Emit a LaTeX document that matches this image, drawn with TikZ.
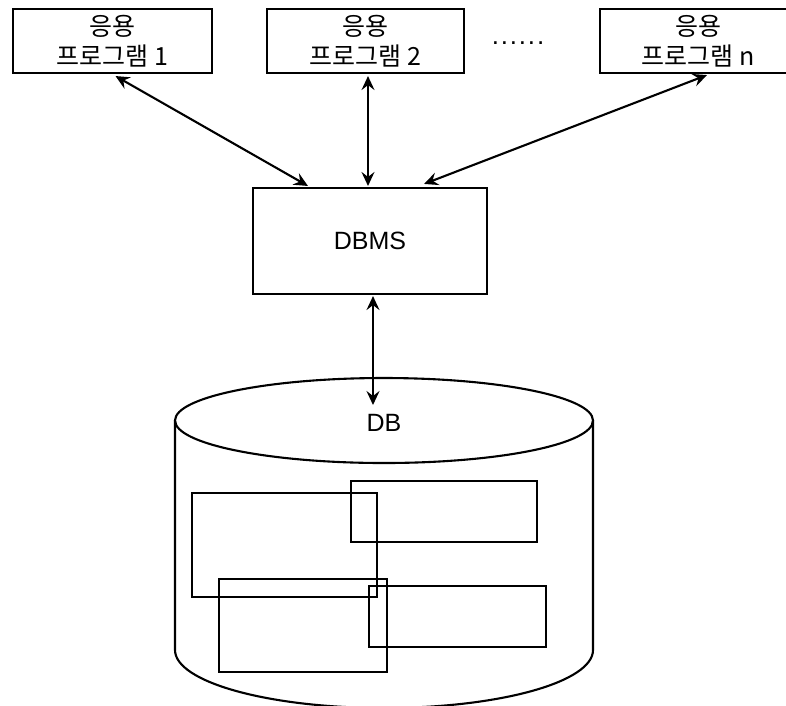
\documentclass[tikz,border=0pt]{standalone}
\usepackage{fontspec}
\setmainfont{Liberation Sans}
\newfontfamily\kofont{Noto Sans CJK KR}
\newfontfamily\dotfont[LetterSpace=7]{Liberation Sans}
\usetikzlibrary{arrows.meta,calc}
\tikzset{
  lw/.style={line width=2.1pt},
  appbox/.style={draw,lw,minimum width=197pt,minimum height=64pt,inner sep=0pt,
     align=center,font=\kofont\fontsize{25}{30}\selectfont},
  dbmsbox/.style={draw,lw,minimum width=234pt,minimum height=106pt,inner sep=0pt,
     font=\fontsize{25}{28}\selectfont},
  link/.style={lw,{Stealth[length=14pt,width=13pt,inset=5pt]}-{Stealth[length=14pt,width=13pt,inset=5pt]}},
  seg/.style={line width=2.2pt},
  label/.style={inner sep=0pt,font=\fontsize{25}{28}\selectfont}
}
\begin{document}
\begin{tikzpicture}[x=1pt,y=-1pt]
\useasboundingbox (0,0) rectangle (786,705);
\node[appbox,minimum width=199pt] (app1) at (112.5,41) {응용\\프로그램 1};
\node[appbox] (app2) at (365.5,41) {응용\\프로그램 2};
\node[appbox,minimum width=196pt] (appn) at (698,41) {응용\\프로그램 n};
\node[label,font=\dotfont\fontsize{26}{28}\selectfont,anchor=base] (dots) at (518,44) {......};
\node[dbmsbox] (dbms) at (370,241) {DBMS};
% cylinder
\draw[lw] (384,420.5) ellipse [x radius=209, y radius=42.5];
\draw[lw] (175,420.5) -- (175,650) arc[start angle=180,end angle=0,x radius=209,y radius=58] -- (593,420.5);
\node[label] (db) at (384,423) {DB};
\coordinate (dbtip) at (373,405);
% inner rectangles
\draw[seg] (192,493) rectangle (377,597);
\draw[seg] (351,481) rectangle (537,542);
\draw[seg] (219,579) rectangle (387,672);
\draw[seg] (369,586) rectangle (546,647);
% connectors
\draw[link] ($(app1.south)+(3,2)$) -- ($(dbms.north west)+(56,-1)$);
\draw[link] ($(app2.south)+(2.5,2)$) -- ($(dbms.north)+(-2,-1)$);
\draw[link] ($(appn.south)+(9,1)$) -- ($(dbms.north east)+(-64,-3)$);
\draw[link] ($(dbms.south)+(3,1)$) -- (dbtip);
\end{tikzpicture}
\end{document}
